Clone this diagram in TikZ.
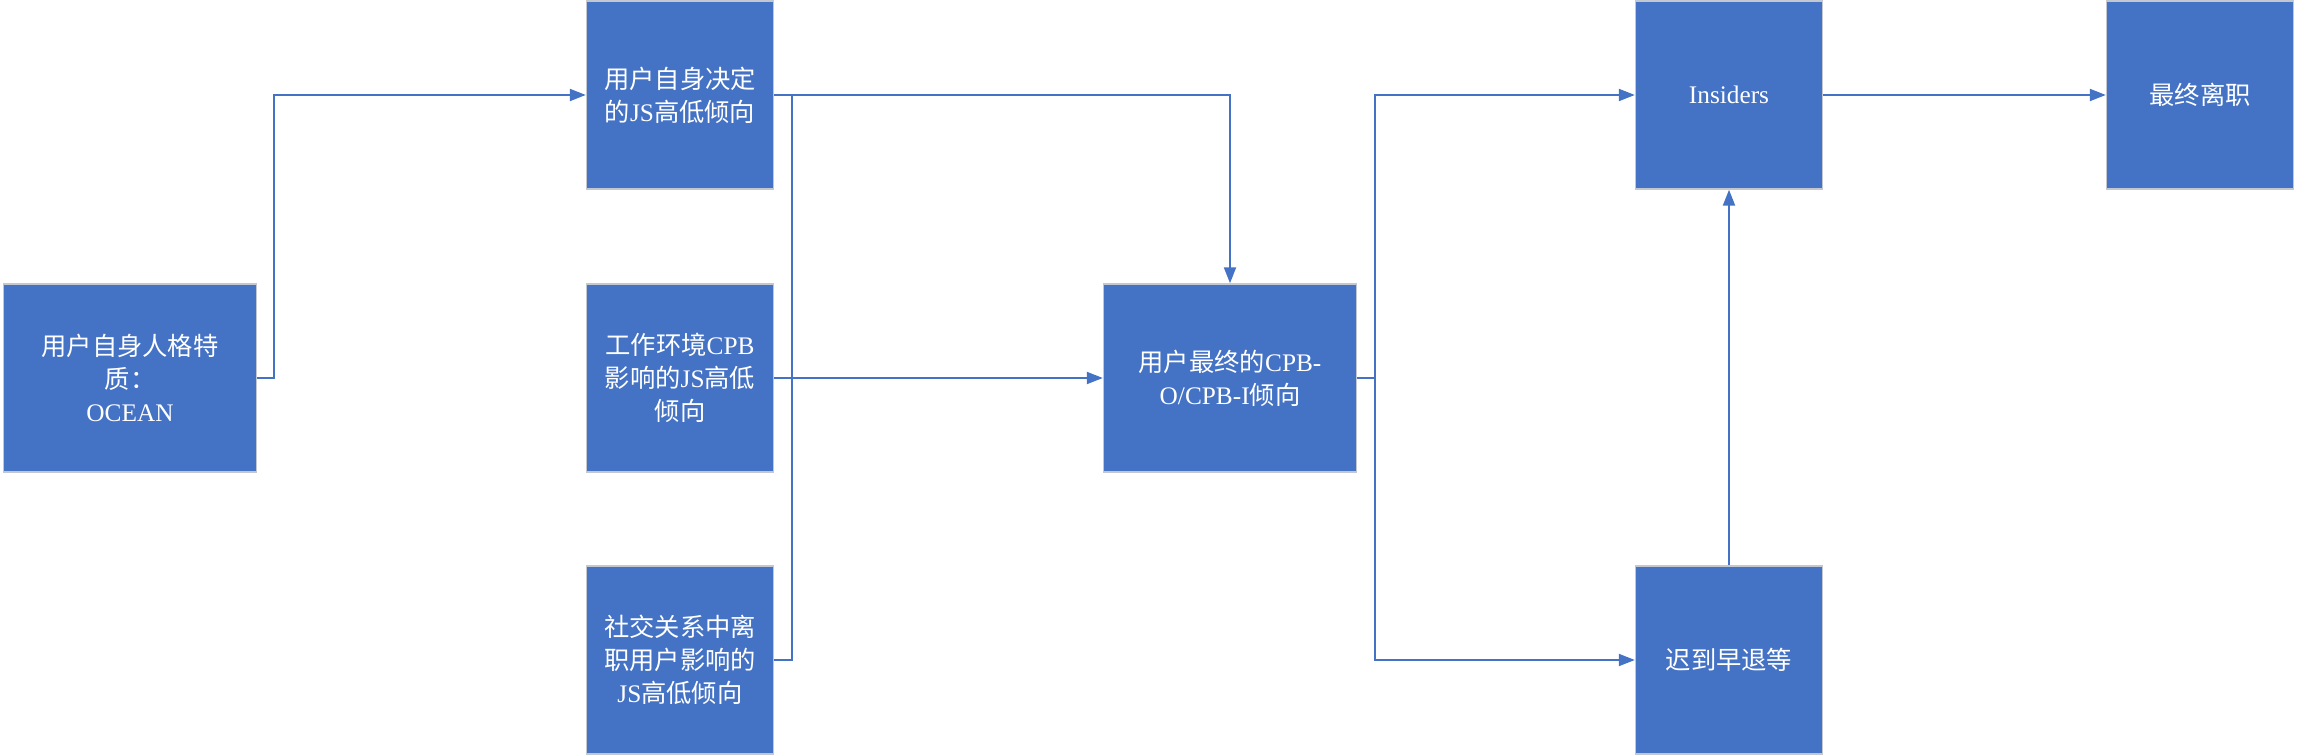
\documentclass[tikz,border=0pt]{standalone}
\usepackage{fontspec}
\setmainfont{Liberation Serif}
\newfontfamily\cjk{Noto Sans CJK SC}
\usetikzlibrary{arrows.meta}
\definecolor{boxblue}{HTML}{4472C4}
\definecolor{boxedge}{HTML}{C3C8D0}
\begin{document}
\begin{tikzpicture}[x=0.1mm, y=-0.1mm,
    font=\fontsize{7.2}{9.4}\selectfont,
    box/.style={fill=boxblue, draw=boxedge, line width=0.4pt, text=white,
                align=center, inner sep=0pt,
                minimum width=18.7mm, minimum height=18.8mm},
    wide/.style={box, minimum width=25.3mm},
    link/.style={draw=boxblue, line width=0.6pt},
    arr/.style={link, -{Triangle[length=1.6mm, width=1.2mm]}}]
  \useasboundingbox (0,0) rectangle (2298,756);
  % --- Kutular ---
  \node[wide] (ocean)    at (130,378)  {{\cjk 用户自身人格特}\\{\cjk 质：}\\OCEAN};
  \node[box]  (jsself)   at (680,95)   {{\cjk 用户自身决定}\\{\cjk 的}JS{\cjk 高低倾向}};
  \node[box]  (jsenv)    at (680,378)  {{\cjk 工作环境}CPB\\{\cjk 影响的}JS{\cjk 高低}\\{\cjk 倾向}};
  \node[box]  (jssocial) at (680,660)  {{\cjk 社交关系中离}\\{\cjk 职用户影响的}\\JS{\cjk 高低倾向}};
  \node[wide] (cpb)      at (1230,378) {{\cjk 用户最终的}CPB-\\O/CPB-I{\cjk 倾向}};
  \node[box]  (insiders) at (1729,95)  {Insiders};
  \node[box]  (quit)     at (2200,95)  {{\cjk 最终离职}};
  \node[box]  (late)     at (1729,660) {{\cjk 迟到早退等}};

  % --- Baglantilar ---
  \draw[arr] (ocean.east) -- ++(17,0) |- (jsself.west);
  \draw[arr] (jsself.east) -| (cpb.north);
  \draw[link] (jssocial.east) -- ++(18,0) |- (jsself.east);
  \draw[arr] (jsenv.east) -- (cpb.west);
  \draw[arr] (cpb.east) -- ++(18,0) coordinate (fork) |- (insiders.west);
  \draw[arr] (fork) |- (late.west);
  \draw[arr] (late.north) -- (insiders.south);
  \draw[arr] (insiders.east) -- (quit.west);
\end{tikzpicture}
\end{document}
